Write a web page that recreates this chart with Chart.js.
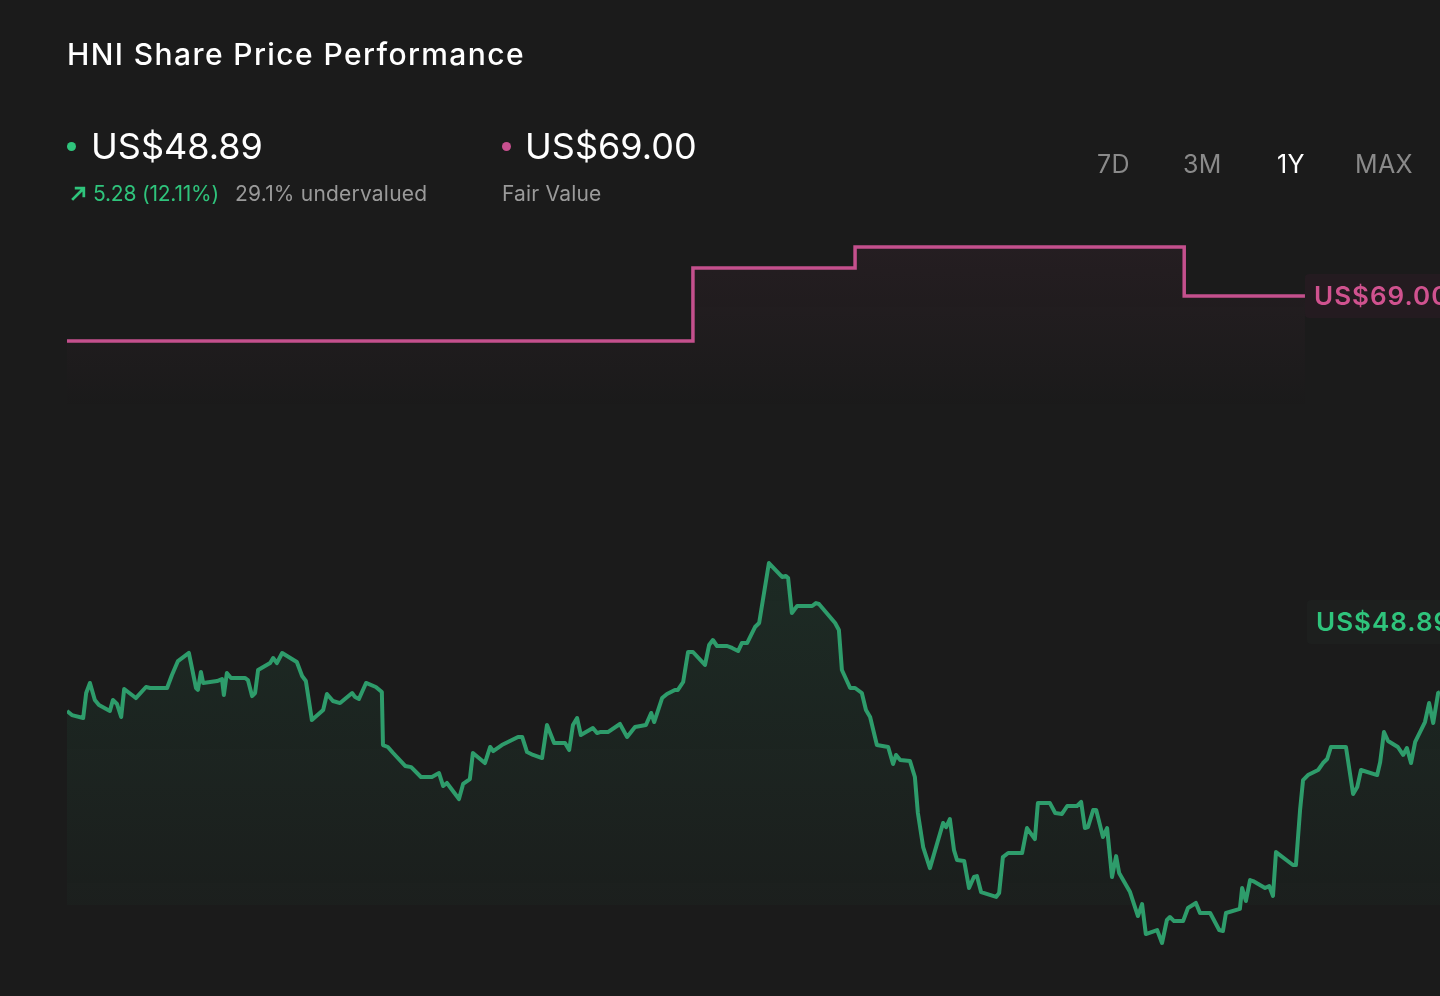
<!DOCTYPE html>
<html lang="en">
<head>
    <meta charset="UTF-8">
    <title>HNI Share Price Performance</title>
    <script src="https://cdn.jsdelivr.net/npm/chart.js@4.4.1/dist/chart.umd.min.js"></script>
    <style>
        body{
            margin: 0;
            padding: 0;
            background-color: #1b1b1b;
            font-family: 'Inter', 'Noto Sans', sans-serif;
            overflow: hidden;
        }
        .wrap{
            position: relative;
            width: 1440px;
            height: 996px;
        }
        canvas{
            position: absolute;
            left: 0;
            top: 0;
        }
        .t{
            position: absolute;
            white-space: nowrap;
            line-height: 1;
        }
        .title{ left: 67px; top: 39px; font-size: 30px; font-weight: 500; color: #ffffff; letter-spacing: 1.4px; }
        .big{ top: 128px; font-size: 36px; color: #ffffff; }
        .sub{ top: 183px; font-size: 21px; color: #9a9a9a; letter-spacing: 0.2px; }
        .up{ color: #2fc47c; letter-spacing: -0.2px; }
        .dot{
            position: absolute;
            width: 9px;
            height: 9px;
            border-radius: 50%;
        }
        .period{ top: 152px; font-size: 25px; color: #8a8a8a; letter-spacing: 0.3px; }
        .period.on{ color: #ffffff; }
    </style>
</head>
<body>
<div class="wrap">
    <canvas id="chart" width="1440" height="996"></canvas>
    <div class="t title">HNI Share Price Performance</div>

    <div class="dot" style="left:67px;top:142px;background:#2fc47c"></div>
    <div class="t big" style="left:91px">US$48.89</div>
    <svg style="position:absolute;left:70px;top:185px" width="17" height="17" viewBox="0 0 16 16">
        <path d="M2 14 L13 3 M4.5 3 H13 V11.5" stroke="#2fc47c" stroke-width="2.6" fill="none"/>
    </svg>
    <div class="t sub up" style="left:93px">5.28 (12.11%)</div>
    <div class="t sub" style="left:235px">29.1% undervalued</div>

    <div class="dot" style="left:502px;top:142px;background:#c8508f"></div>
    <div class="t big" style="left:525px">US$69.00</div>
    <div class="t sub" style="left:502px">Fair Value</div>

    <div id="periods"></div>
</div>
<script>
// price history, x = days from the start of the 1Y window
const days = [0,1.3,4.3,5.1,6.1,7.4,8.5,11.4,12.2,13.3,14.4,15.2,18.3,21.0,22.1,26.6,27.9,29.5,32.4,34.3,
    34.8,35.6,36.2,39.9,41.2,41.7,42.5,43.6,47.3,48.1,49.2,50.0,50.8,54.0,54.8,55.8,57.2,61.1,62.5,63.5,
    65.1,68.1,69.1,70.7,72.6,75.8,76.6,77.6,79.5,82.1,83.7,84.0,85.3,86.7,89.9,91.5,94.1,97.0,98.9,100.0,
    101.0,104.2,105.3,107.1,107.9,111.1,112.5,113.3,115.6,119.9,121.0,122.3,123.9,126.3,127.6,129.5,132.4,133.5,134.5,135.6,
    136.6,139.8,140.9,141.7,143.8,147.0,148.9,151.0,153.9,155.3,156.1,158.2,159.5,161.6,162.4,163.8,165.1,166.4,169.6,170.7,
    171.7,172.8,175.5,176.8,178.4,179.4,180.8,182.9,184.0,186.6,190.1,191.1,191.7,192.7,194.1,198.1,199.1,199.9,204.2,205.2,
    206.0,208.2,209.5,211.3,212.4,213.5,215.3,218.3,219.6,220.4,221.5,224.1,225.4,226.2,227.6,229.4,232.9,233.7,234.7,235.8,
    236.6,238.5,239.8,241.1,241.9,243.0,247.0,247.8,248.8,250.2,253.9,255.2,257.3,258.1,261.3,262.7,264.5,265.9,268.5,269.6,
    270.6,271.4,272.8,273.6,275.4,276.5,277.8,278.9,279.7,282.6,284.7,285.8,286.8,289.8,291.1,292.4,293.2,294.3,296.7,298.0,
    300.1,301.2,303.9,306.3,307.3,308.1,311.8,312.4,313.4,314.5,315.3,318.5,319.6,320.6,321.4,325.9,326.7,327.8,328.6,329.9,
    332.6,333.9,335.0,336.0,340.0,341.9,343.0,344.0,348.3,349.1,350.1,351.2,353.8,355.2,356.2,357.3,358.4,361.0,362.1,363.2,
    364.5,365.0];
const prices = [43.40,43.15,42.97,44.51,45.13,44.08,43.77,43.40,44.08,43.83,43.03,44.76,44.20,44.88,44.82,44.82,45.62,46.48,46.98,44.82,
    44.70,45.81,45.13,45.25,45.37,44.39,45.74,45.44,45.44,45.31,44.32,44.51,45.93,46.36,46.67,46.36,46.98,46.42,45.56,45.25,
    42.84,43.46,44.45,44.02,43.89,44.51,44.26,44.14,45.13,44.88,44.57,41.30,41.18,40.81,40.01,39.94,39.33,39.33,39.57,38.77,
    38.96,37.97,38.90,39.20,40.81,40.19,41.18,40.93,41.30,41.80,41.80,40.87,40.69,40.50,42.54,41.43,41.43,40.99,42.54,42.97,
    41.92,42.35,42.04,42.10,42.10,42.60,41.80,42.41,42.54,43.28,42.72,44.20,44.45,44.70,44.70,45.19,47.04,47.04,46.24,47.47,
    47.78,47.41,47.41,47.29,47.10,47.59,47.59,48.58,48.83,52.53,51.67,51.73,51.60,49.45,49.88,49.88,50.06,50.00,48.83,48.40,
    45.93,44.82,44.82,44.51,43.46,43.03,41.30,41.18,40.13,40.69,40.38,40.31,39.33,37.11,35.01,33.71,36.49,36.24,36.74,34.82,
    34.21,34.15,32.48,33.16,33.22,32.23,31.93,32.17,34.39,34.64,34.64,36.18,35.50,37.72,37.72,37.11,37.05,37.54,37.54,37.79,
    36.18,36.24,37.29,37.29,35.63,36.18,33.16,34.45,33.41,32.23,30.75,31.49,29.64,29.89,29.09,30.51,30.69,30.44,30.44,31.25,
    31.56,30.94,30.94,29.89,29.83,30.94,31.19,32.48,31.68,32.97,32.91,32.48,32.60,31.99,34.70,33.90,33.90,37.29,39.14,39.45,
    39.76,40.19,40.44,41.18,41.18,38.28,38.71,39.76,39.45,40.25,42.10,41.55,41.18,40.69,41.12,40.19,41.49,42.72,43.89,42.66,
    44.51,44.57];

// analyst fair value estimates (step line)
const fairDays = [0,166.4,209.5,297.0,329.1];
const fairValues = [66.22,70.73,72.02,69.00,69.00];

const lastPrice = 48.89;
const fairValue = 69.00;
const periods = ['7D','3M','1Y','MAX'];
const periodX = [1097,1183,1277,1355];

const box = document.getElementById('periods');
periods.forEach(function(p, i){
    const d = document.createElement('div');
    d.className = 't period' + (p === '1Y' ? ' on' : '');
    d.style.left = periodX[i] + 'px';
    d.textContent = p;
    box.appendChild(d);
});

function grad(chart, topVal, botVal, c1, c2){
    const area = chart.chartArea;
    if(!area) return 'transparent';
    const y = chart.scales.y;
    const g = chart.ctx.createLinearGradient(0, y.getPixelForValue(topVal), 0, y.getPixelForValue(botVal));
    g.addColorStop(0, c1);
    g.addColorStop(1, c2);
    return g;
}

const sideLabels = {
    id: 'sideLabels',
    afterDatasetsDraw(chart){
        const c = chart.ctx;
        const y = chart.scales.y;
        c.save();
        c.font = '600 26px Inter, "Noto Sans", sans-serif';
        c.letterSpacing = '1px';
        c.textBaseline = 'middle';
        let fy = y.getPixelForValue(fairValue);
        c.fillStyle = '#241b20';
        c.beginPath(); c.roundRect(1305, fy - 22, 170, 44, 4); c.fill();
        c.fillStyle = '#d0528f';
        c.fillText('US$' + fairValue.toFixed(2), 1314, fy + 1);
        let py = y.getPixelForValue(lastPrice);
        c.fillStyle = '#1d1f1e';
        c.beginPath(); c.roundRect(1307, py - 22, 170, 44, 4); c.fill();
        c.fillStyle = '#2fc47c';
        c.fillText('US$' + lastPrice.toFixed(2), 1316, py + 1);
        c.restore();
    }
};

new Chart(document.getElementById('chart').getContext('2d'), {
    type: 'line',
    data: {
        datasets: [{
            label: 'Share price',
            data: days.map(function(d, i){ return {x: d, y: prices[i]}; }),
            borderColor: '#2e9c6b',
            borderWidth: 4,
            pointRadius: 0,
            tension: 0,
            borderJoinStyle: 'round',
            fill: {target: {value: 31.43}, above: function(ctx){ return grad(ctx.chart, 52.5, 31.43, 'rgba(46,160,108,0.12)', 'rgba(46,160,108,0.03)'); }, below: 'transparent'}
        }, {
            label: 'Fair value',
            data: fairDays.map(function(d, i){ return {x: d, y: fairValues[i]}; }),
            borderColor: '#c4508d',
            borderWidth: 3.5,
            pointRadius: 0,
            stepped: 'before',
            fill: {target: 'start', above: function(ctx){ return grad(ctx.chart, 72, 62, 'rgba(200,80,140,0.06)', 'rgba(200,80,140,0)'); }}
        }]
    },
    options: {
        responsive: false,
        animation: false,
        layout: {padding: {left: 67, right: 0, top: 220, bottom: 36}},
        plugins: {legend: {display: false}, tooltip: {enabled: false}},
        scales: {
            x: {type: 'linear', min: 0, max: 365, display: false},
            y: {min: 28.04, max: 73.69, display: false}
        }
    },
    plugins: [sideLabels]
});
</script>
</body>
</html>
